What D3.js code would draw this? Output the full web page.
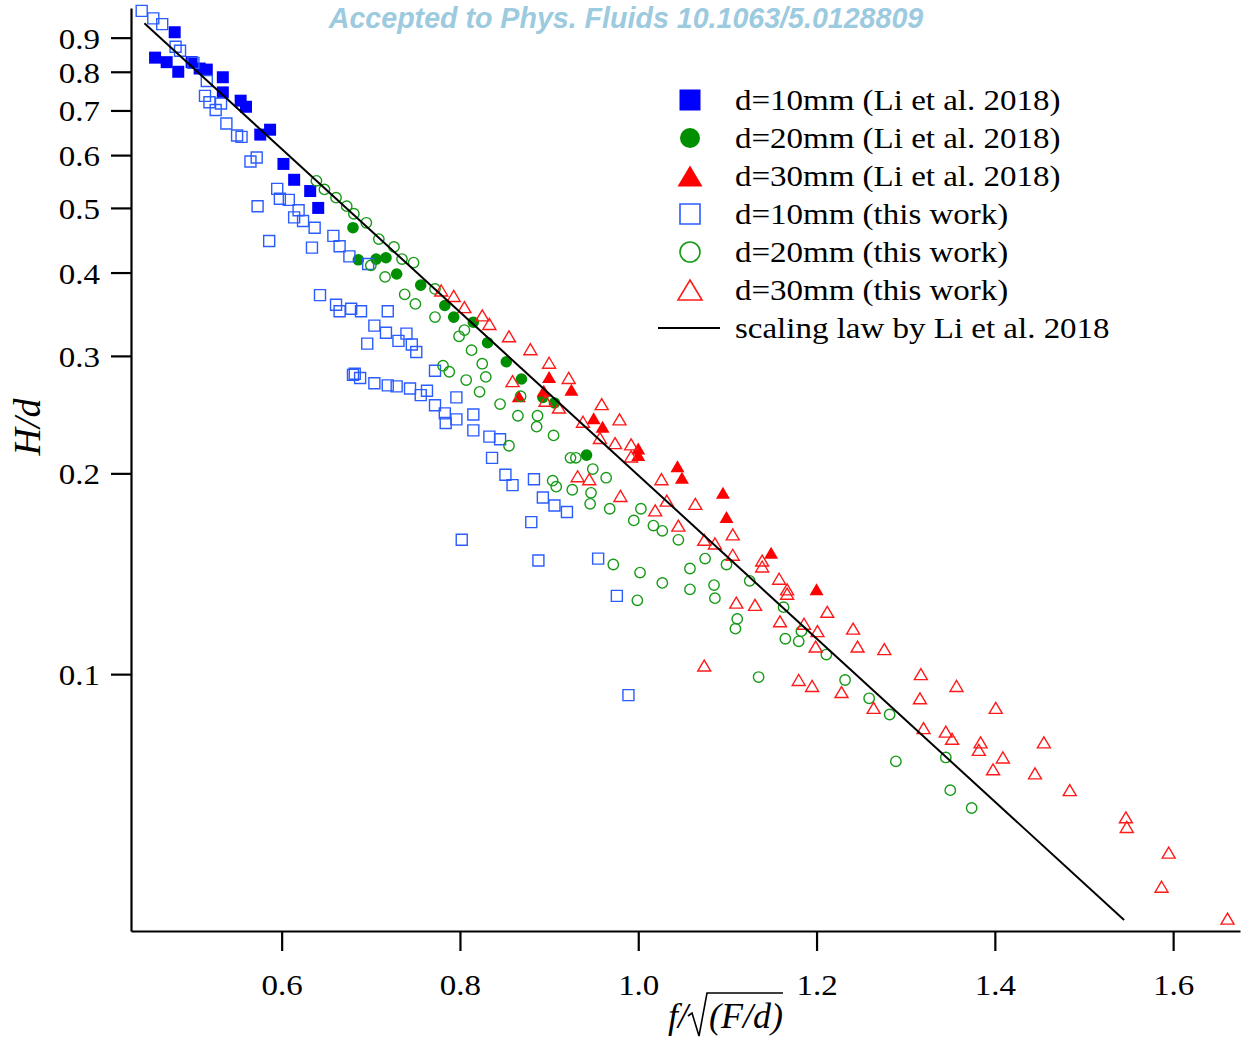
<!DOCTYPE html>
<html><head><meta charset="utf-8">
<script src="https://cdn.jsdelivr.net/npm/d3@7"></script>
<style>body{margin:0;background:#fff} svg{display:block}</style>
</head><body>
<svg id="chart" width="1242" height="1041"></svg>
<script>
// ---- data (x = f/sqrt(F/d), y = H/d) ----
const li10 = [[0.480,0.917],[0.458,0.840],[0.471,0.827],[0.484,0.800],[0.499,0.827],[0.508,0.809],[0.516,0.806],[0.534,0.785],[0.534,0.745],[0.554,0.724],[0.560,0.709],[0.576,0.644],[0.587,0.655],[0.602,0.582],[0.614,0.551],[0.632,0.530],[0.641,0.500]];
const li20 = [[0.680,0.467],[0.686,0.418],[0.706,0.419],[0.717,0.421],[0.729,0.398],[0.756,0.383],[0.783,0.357],[0.793,0.343],[0.815,0.337],[0.831,0.314],[0.852,0.294],[0.869,0.277],[0.893,0.260],[0.906,0.255],[0.942,0.213]];
const li30 = [[0.900,0.279],[0.894,0.266],[0.925,0.267],[0.866,0.261],[0.950,0.242],[0.960,0.235],[1.000,0.218],[1.000,0.213],[1.044,0.205],[1.049,0.197],[1.095,0.187],[1.099,0.172],[1.149,0.152],[1.200,0.134]];
const tw10 = [[0.443,0.987],[0.456,0.962],[0.466,0.943],[0.481,0.872],[0.486,0.860],[0.501,0.825],[0.516,0.775],[0.514,0.736],[0.519,0.720],[0.532,0.717],[0.526,0.701],[0.538,0.669],[0.550,0.642],[0.555,0.639],[0.565,0.587],[0.572,0.595],[0.573,0.503],[0.595,0.534],[0.598,0.516],[0.608,0.514],[0.619,0.496],[0.614,0.484],[0.624,0.478],[0.637,0.467],[0.586,0.446],[0.634,0.436],[0.658,0.454],[0.665,0.438],[0.676,0.423],[0.697,0.412],[0.643,0.370],[0.661,0.358],[0.665,0.350],[0.678,0.353],[0.689,0.350],[0.719,0.350],[0.704,0.333],[0.717,0.325],[0.696,0.313],[0.731,0.316],[0.740,0.324],[0.746,0.312],[0.751,0.304],[0.772,0.285],[0.682,0.282],[0.680,0.281],[0.688,0.278],[0.704,0.273],[0.719,0.271],[0.729,0.270],[0.744,0.268],[0.756,0.262],[0.763,0.266],[0.772,0.253],[0.783,0.246],[0.796,0.260],[0.784,0.238],[0.796,0.241],[0.815,0.245],[0.815,0.232],[0.833,0.227],[0.845,0.225],[0.836,0.211],[0.851,0.199],[0.859,0.192],[0.883,0.196],[0.893,0.184],[0.906,0.179],[0.920,0.175],[0.880,0.169],[0.802,0.159],[0.888,0.148],[0.955,0.149],[0.976,0.131],[0.989,0.093]];
const tw20 = [[0.639,0.549],[0.648,0.533],[0.661,0.518],[0.673,0.503],[0.681,0.490],[0.695,0.475],[0.709,0.449],[0.726,0.437],[0.735,0.419],[0.748,0.414],[0.700,0.410],[0.716,0.394],[0.738,0.371],[0.750,0.359],[0.772,0.343],[0.772,0.378],[0.805,0.328],[0.799,0.321],[0.813,0.306],[0.825,0.292],[0.829,0.279],[0.781,0.290],[0.788,0.284],[0.807,0.276],[0.822,0.265],[0.845,0.254],[0.868,0.261],[0.865,0.244],[0.887,0.244],[0.886,0.235],[0.905,0.228],[0.855,0.220],[0.924,0.211],[0.930,0.211],[0.949,0.203],[0.964,0.197],[0.904,0.195],[0.908,0.191],[0.926,0.189],[0.947,0.187],[0.946,0.180],[0.968,0.177],[1.003,0.177],[0.995,0.170],[1.017,0.167],[1.027,0.164],[1.045,0.159],[0.972,0.146],[1.002,0.142],[1.027,0.137],[0.999,0.129],[1.058,0.144],[1.075,0.149],[1.058,0.134],[1.085,0.136],[1.086,0.130],[1.099,0.146],[1.125,0.138],[1.111,0.121],[1.109,0.117],[1.163,0.126],[1.165,0.113],[1.180,0.112],[1.183,0.116],[1.211,0.107],[1.135,0.099],[1.232,0.098],[1.259,0.092],[1.282,0.087],[1.289,0.074],[1.345,0.075],[1.350,0.067],[1.374,0.063]];
const tw30 = [[0.779,0.376],[0.793,0.369],[0.805,0.355],[0.825,0.345],[0.833,0.335],[0.855,0.321],[0.879,0.307],[0.900,0.293],[0.922,0.278],[0.859,0.275],[0.896,0.257],[0.911,0.251],[0.959,0.254],[0.979,0.241],[0.938,0.239],[0.957,0.226],[0.974,0.222],[0.992,0.221],[0.992,0.212],[0.932,0.198],[0.945,0.196],[0.980,0.185],[1.026,0.196],[1.032,0.182],[1.019,0.176],[1.064,0.180],[1.045,0.167],[1.074,0.159],[1.106,0.162],[1.086,0.157],[1.106,0.151],[1.139,0.148],[1.139,0.145],[1.158,0.139],[1.167,0.134],[1.167,0.132],[1.212,0.124],[1.241,0.117],[1.276,0.109],[1.110,0.128],[1.131,0.127],[1.159,0.120],[1.186,0.119],[1.201,0.116],[1.199,0.110],[1.246,0.110],[1.074,0.103],[1.180,0.098],[1.195,0.096],[1.228,0.094],[1.317,0.100],[1.316,0.092],[1.357,0.096],[1.264,0.089],[1.320,0.083],[1.345,0.082],[1.352,0.080],[1.384,0.079],[1.382,0.077],[1.401,0.089],[1.409,0.075],[1.398,0.072],[1.455,0.079],[1.445,0.071],[1.484,0.067],[1.547,0.061],[1.548,0.059],[1.595,0.054],[1.587,0.048],[1.661,0.043]];
const lawX = [0.446, 1.545];
const lawY = [0.946, 0.0428];
const xTicks = [0.6, 0.8, 1.0, 1.2, 1.4, 1.6];
const yTicks = [0.1, 0.2, 0.3, 0.4, 0.5, 0.6, 0.7, 0.8, 0.9];
const legendLabels = ["d=10mm (Li et al. 2018)","d=20mm (Li et al. 2018)","d=30mm (Li et al. 2018)","d=10mm (this work)","d=20mm (this work)","d=30mm (this work)","scaling law by Li et al. 2018"];

// ---- drawing ----
const svg = d3.select("#chart");
svg.append("rect").attr("width",1242).attr("height",1041).attr("fill","#fff");
const SERIF = "'Liberation Serif','Times New Roman',Times,serif";
const SX = 1.1; // horizontal stretch of the original figure text

const x = d3.scaleLinear().domain([0.431, 1.675]).range([131, 1240]);
const y = d3.scaleLog().domain([0.0412, 0.997]).range([931, 8]);

const C = {blueF:"#0000ff", blueO:"#2a5cff", greenF:"#008f00", greenO:"#169a16", redF:"#ff0000", redO:"#ff1a1a"};

function triPath(w,h){ return `M0,${-h/2}L${w/2},${h/2}L${-w/2},${h/2}Z`; }
function sqPath(s){ return `M${-s/2},${-s/2}h${s}v${s}h${-s}Z`; }

const gPts = svg.append("g");
function drawSeries(data, kind, filled, color){
  const g = gPts.append("g");
  const sel = g.selectAll("path").data(data).join("path")
    .attr("transform", d => `translate(${x(d[0])},${y(d[1])})`);
  if(kind==="sq") sel.attr("d", filled ? sqPath(12) : sqPath(11));
  if(kind==="ci") sel.attr("d", filled ? d3.symbol(d3.symbolCircle, Math.PI*5.8*5.8)() : d3.symbol(d3.symbolCircle, Math.PI*5.2*5.2)());
  if(kind==="tr") sel.attr("d", filled ? triPath(14,12) : triPath(13,11));
  if(filled) sel.attr("fill", color).attr("stroke","none");
  else sel.attr("fill","none").attr("stroke", color).attr("stroke-width",1.4);
}
drawSeries(li10,"sq",true,C.blueF);
drawSeries(li20,"ci",true,C.greenF);
drawSeries(li30,"tr",true,C.redF);
drawSeries(tw10,"sq",false,C.blueO);
drawSeries(tw20,"ci",false,C.greenO);
drawSeries(tw30,"tr",false,C.redO);

svg.append("path")
  .datum(lawX.map((v,i)=>[v, lawY[i]]))
  .attr("d", d3.line().x(d=>x(d[0])).y(d=>y(d[1])))
  .attr("fill","none").attr("stroke","#000").attr("stroke-width",2);

// axes
const yAxis = d3.axisLeft(y).tickValues(yTicks).tickSize(20).tickSizeOuter(0).tickFormat(d3.format(".1f"));
const gy = svg.append("g").attr("transform","translate(131,0)").call(yAxis);
gy.select(".domain").attr("stroke","#000").attr("stroke-width",2.2);
gy.selectAll(".tick line").attr("stroke","#000").attr("stroke-width",2.2);
gy.selectAll(".tick text").attr("x",0).attr("dy",null).attr("y",10.5)
  .attr("transform","translate(-31,0) scale("+SX+",1)")
  .attr("font-family",SERIF).attr("font-size",30).attr("fill","#000");

const xAxis = d3.axisBottom(x).tickValues(xTicks).tickSize(20).tickSizeOuter(0).tickFormat(d3.format(".1f"));
const gx = svg.append("g").attr("transform","translate(0,931)").call(xAxis);
gx.select(".domain").attr("stroke","#000").attr("stroke-width",2.2);
gx.selectAll(".tick line").attr("stroke","#000").attr("stroke-width",2.2);
gx.selectAll(".tick text").attr("y",0).attr("dy",null)
  .attr("transform","translate(0,64) scale("+SX+",1)")
  .attr("font-family",SERIF).attr("font-size",30).attr("fill","#000");

// y title
svg.append("text").attr("transform","translate(40,427) rotate(-90)")
  .attr("text-anchor","middle").attr("font-family",SERIF).attr("font-style","italic")
  .attr("font-size",38).text("H/d");

// x title: f/√(F/d) with a drawn radical sign and vinculum
const xt = svg.append("g");
xt.append("text").attr("x",688).attr("y",1028).attr("text-anchor","end")
  .attr("font-family",SERIF).attr("font-style","italic").attr("font-size",36).text("f/");
const t2 = xt.append("text").attr("x",709).attr("y",1028)
  .attr("font-family",SERIF).attr("font-style","italic").attr("font-size",36).text("(F/d)");
const w2 = t2.node().getComputedTextLength();
xt.append("path")
  .attr("d",`M688,1016 L692,1013 L699,1036 L707,993 L${709+w2},993`)
  .attr("fill","none").attr("stroke","#000").attr("stroke-width",1.6).attr("stroke-linejoin","miter");
// keep the radical character as real text for the title
xt.append("text").attr("x",698).attr("y",1028).attr("text-anchor","middle").attr("font-size",1).attr("fill","none").text("√");

// legend
const leg = svg.append("g");
const legKinds = [["sq",true,C.blueF],["ci",true,C.greenF],["tr",true,C.redF],["sq",false,C.blueO],["ci",false,C.greenO],["tr",false,C.redO],["ln",false,"#000"]];
legendLabels.forEach((lab,i)=>{
  const cy = 100 + i*38;
  const [k,f,c] = legKinds[i];
  if(k==="ln"){
    leg.append("line").attr("x1",658).attr("x2",720).attr("y1",cy).attr("y2",cy).attr("stroke",c).attr("stroke-width",2);
  } else {
    const p = leg.append("path").attr("transform",`translate(690,${cy})`)
      .attr("d", k==="sq" ? sqPath(f?21:20) : k==="ci" ? d3.symbol(d3.symbolCircle, Math.PI*10*10)() : triPath(f?25:24, f?21:20));
    if(f) p.attr("fill",c); else p.attr("fill","none").attr("stroke",c).attr("stroke-width",1.6);
  }
  leg.append("text").attr("transform",`translate(735,${cy+10}) scale(${SX},1)`)
    .attr("font-family",SERIF).attr("font-size",30).attr("fill","#000").text(lab);
});

// watermark
svg.append("text").attr("x",626).attr("y",28).attr("text-anchor","middle")
  .attr("font-family","'Liberation Sans',Arial,sans-serif").attr("font-weight","bold").attr("font-style","italic")
  .attr("font-size",28.6).attr("fill","#9ccadf").text("Accepted to Phys. Fluids 10.1063/5.0128809");
</script>
</body></html>
